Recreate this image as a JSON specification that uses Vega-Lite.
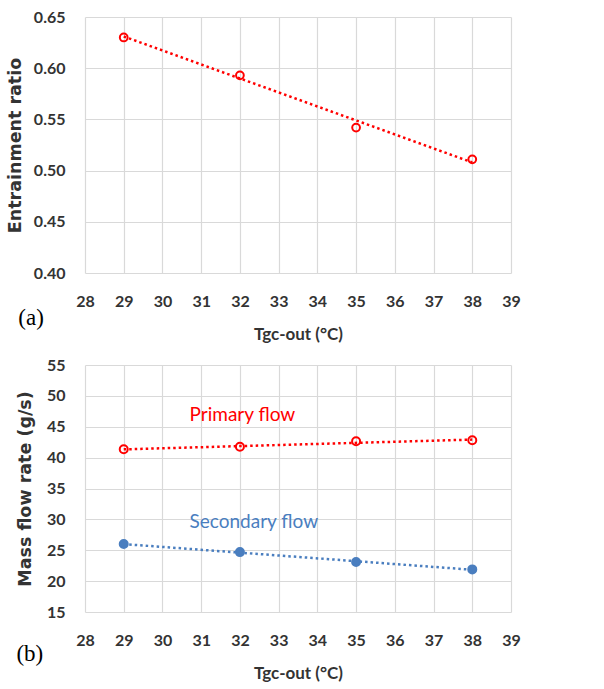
{
  "$schema": "https://vega.github.io/schema/vega-lite/v6.json",
  "background": "white",
  "padding": {"left": 6, "top": 9, "right": 10, "bottom": 5},
  "spacing": 15,
  "config": {
    "view": {"stroke": null},
    "axis": {
      "labelFont": "Lato", "labelFontWeight": "bold", "labelFontSize": 16, "labelColor": "#333333",
      "titleFont": "Lato", "titleFontWeight": "bold", "titleFontSize": 17, "titleColor": "#333333",
      "ticks": false, "domain": false, "grid": true, "gridColor": "#d9d9d9", "gridWidth": 1.2,
      "labelOverlap": false, "labelFlush": false
    }
  },
  "datasets": {
    "er": [
      {"T": 29, "ER": 0.630}, {"T": 32, "ER": 0.593}, {"T": 35, "ER": 0.542}, {"T": 38, "ER": 0.511}
    ],
    "er_trend": [
      {"T": 29, "ER": 0.631}, {"T": 38, "ER": 0.508}
    ],
    "flow": [
      {"T": 29, "series": "Primary", "m": 41.35}, {"T": 32, "series": "Primary", "m": 41.75},
      {"T": 35, "series": "Primary", "m": 42.64}, {"T": 38, "series": "Primary", "m": 42.8},
      {"T": 29, "series": "Secondary", "m": 26.0}, {"T": 32, "series": "Secondary", "m": 24.7},
      {"T": 35, "series": "Secondary", "m": 23.1}, {"T": 38, "series": "Secondary", "m": 21.9}
    ],
    "flow_trend": [
      {"T": 29, "series": "Primary", "m": 41.34}, {"T": 38, "series": "Primary", "m": 42.92},
      {"T": 29, "series": "Secondary", "m": 26.0}, {"T": 38, "series": "Secondary", "m": 21.84}
    ],
    "labels": [
      {"T": 30.7, "m": 46.9, "label": "Primary flow", "series": "Primary"},
      {"T": 30.7, "m": 29.6, "label": "Secondary flow", "series": "Secondary"}
    ]
  },
  "vconcat": [
    {
      "width": 426, "height": 256,
      "title": {"text": "(a)", "orient": "bottom", "anchor": "start", "frame": "bounds", "font": "Liberation Serif", "fontSize": 23, "fontWeight": "normal", "color": "#000000", "dx": 12, "dy": -39},
      "layer": [
        {
          "data": {"name": "er_trend"},
          "mark": {"type": "line", "color": "#ff0000", "strokeDash": [2.5, 3], "strokeWidth": 2.5},
          "encoding": {
            "x": {"field": "T", "type": "quantitative", "scale": {"domain": [28, 39], "nice": false, "zero": false},
                  "axis": {"values": [28,29,30,31,32,33,34,35,36,37,38,39], "tickCount": 30, "format": "d", "title": "Tgc-out (°C)", "labelPadding": 20, "titlePadding": 17, "labelFontSize": 16, "titleFontSize": 17, "labelOverlap": false, "labelFlush": false}},
            "y": {"field": "ER", "type": "quantitative", "scale": {"domain": [0.4, 0.65], "nice": false, "zero": false},
                  "axis": {"values": [0.4,0.45,0.5,0.55,0.6,0.65], "tickCount": 30, "format": ".2f", "title": "Entrainment ratio", "labelPadding": 20, "titlePadding": 9, "labelFontSize": 16, "titleFont": "DejaVu Sans", "titleFontSize": 17.5, "labelOverlap": false, "labelFlush": false}}
          }
        },
        {
          "data": {"name": "er"},
          "mark": {"type": "point", "shape": "circle", "filled": false, "color": "#ff0000", "strokeWidth": 2, "size": 60, "opacity": 1},
          "encoding": {
            "x": {"field": "T", "type": "quantitative"},
            "y": {"field": "ER", "type": "quantitative"}
          }
        }
      ]
    },
    {
      "width": 426, "height": 247,
      "title": {"text": "(b)", "orient": "bottom", "anchor": "start", "frame": "bounds", "font": "Liberation Serif", "fontSize": 23, "fontWeight": "normal", "color": "#000000", "dx": 0, "dy": -42},
      "layer": [
        {
          "data": {"name": "flow_trend"},
          "mark": {"type": "line", "strokeDash": [2.5, 3], "strokeWidth": 2.5},
          "encoding": {
            "x": {"field": "T", "type": "quantitative", "scale": {"domain": [28, 39], "nice": false, "zero": false},
                  "axis": {"values": [28,29,30,31,32,33,34,35,36,37,38,39], "tickCount": 30, "format": "d", "title": "Tgc-out (°C)", "labelPadding": 20, "titlePadding": 17, "labelFontSize": 16, "titleFontSize": 17, "labelOverlap": false, "labelFlush": false}},
            "y": {"field": "m", "type": "quantitative", "scale": {"domain": [15, 55], "nice": false, "zero": false},
                  "axis": {"values": [15,20,25,30,35,40,45,50,55], "tickCount": 30, "title": "Mass flow rate (g/s)", "labelPadding": 20, "titlePadding": 12, "labelFontSize": 16, "titleFont": "DejaVu Sans", "titleFontSize": 17.5, "labelOverlap": false, "labelFlush": false}},
            "color": {"field": "series", "type": "nominal", "scale": {"domain": ["Primary", "Secondary"], "range": ["#ff0000", "#4a7ebf"]}, "legend": null},
            "detail": {"field": "series"}
          }
        },
        {
          "data": {"name": "flow"},
          "mark": {"type": "point", "shape": "circle", "strokeWidth": 2, "size": 64, "opacity": 1},
          "encoding": {
            "x": {"field": "T", "type": "quantitative"},
            "y": {"field": "m", "type": "quantitative"},
            "color": {"field": "series", "type": "nominal", "legend": null},
            "fill": {"field": "series", "type": "nominal", "scale": {"domain": ["Primary", "Secondary"], "range": ["transparent", "#4a7ebf"]}, "legend": null}
          }
        },
        {
          "data": {"name": "labels"},
          "mark": {"type": "text", "align": "left", "baseline": "middle", "font": "Lato", "fontSize": 19},
          "encoding": {
            "x": {"field": "T", "type": "quantitative"},
            "y": {"field": "m", "type": "quantitative"},
            "text": {"field": "label"},
            "color": {"field": "series", "type": "nominal", "legend": null}
          }
        }
      ]
    }
  ]
}
